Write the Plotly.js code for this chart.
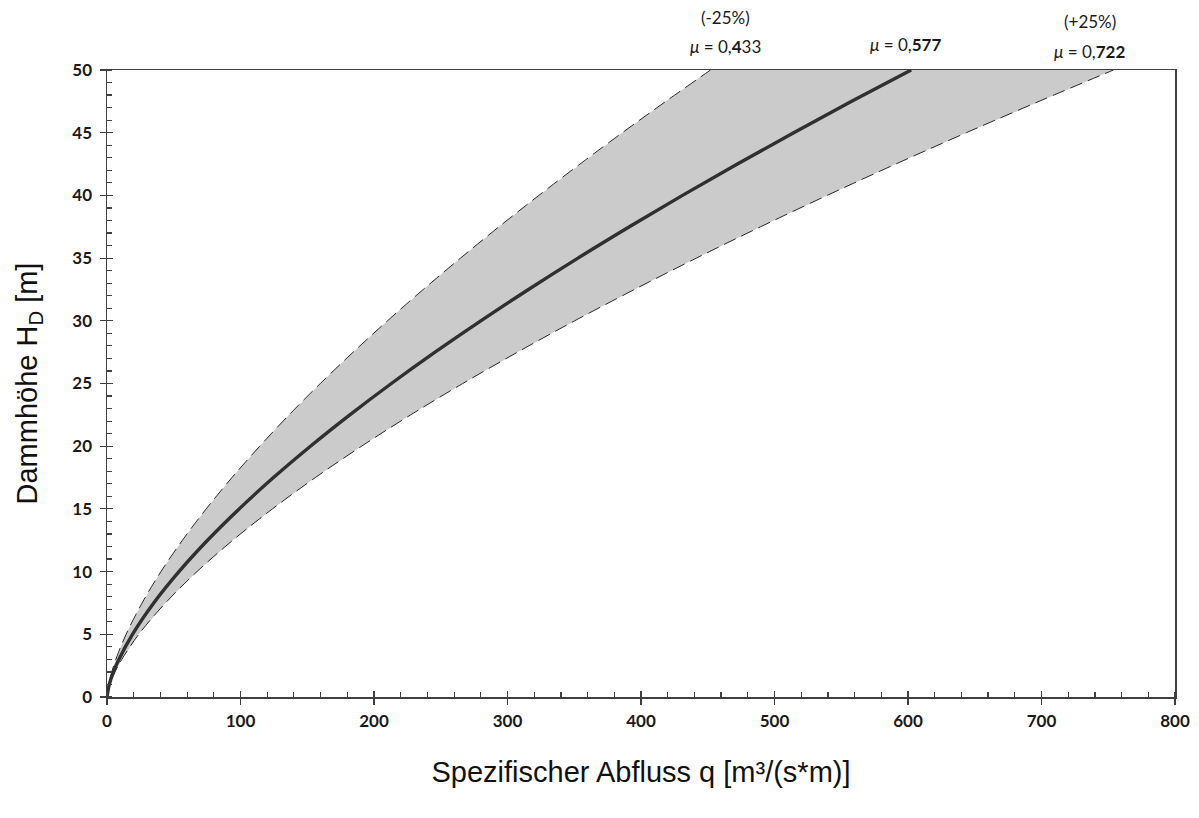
<!DOCTYPE html>
<html>
<head>
<meta charset="utf-8">
<script src="https://cdn.plot.ly/plotly-3.0.1.min.js"></script>
<style>html,body{margin:0;padding:0;background:#fff;}#chart{width:1199px;height:818px;}</style>
</head>
<body>
<div id="chart"></div>
<script>
// Dammhöhe H_D [m]
const heights = [0, 1, 2, 3, 5, 7.5, 10, 12.5, 15, 17.5, 20, 22.5, 25, 27.5, 30, 32.5, 35, 37.5, 40, 42.5, 45, 47.5, 50];
// Spezifischer Abfluss q for mu = 0.433 (-25%)
const qLow = [0, 1.3, 3.6, 6.6, 14.3, 26.3, 40.4, 56.5, 74.3, 93.6, 114.4, 136.4, 159.8, 184.4, 210.1, 236.9, 264.8, 293.6, 323.5, 354.3, 386.0, 418.6, 452.1];
// q for mu = 0.577
const qMid = [0, 1.7, 4.8, 8.9, 19.1, 35.0, 53.9, 75.3, 99.0, 124.7, 152.4, 181.9, 213.0, 245.7, 280.0, 315.7, 352.8, 391.3, 431.1, 472.2, 514.4, 557.8, 602.4];
// q for mu = 0.722 (+25%)
const qHigh = [0, 2.1, 6.0, 11.1, 23.8, 43.8, 67.4, 94.2, 123.9, 156.1, 190.7, 227.5, 266.5, 307.5, 350.3, 395.1, 441.5, 489.6, 539.4, 590.8, 643.7, 698.1, 753.9];

const xTicks = [0, 100, 200, 300, 400, 500, 600, 700, 800];
const yTicks = [0, 5, 10, 15, 20, 25, 30, 35, 40, 45, 50];

const bandX = qLow.concat(qHigh.slice().reverse());
const bandY = heights.concat(heights.slice().reverse());

const traces = [
  {x: bandX, y: bandY, type: 'scatter', mode: 'lines', fill: 'toself',
   fillcolor: '#cbcbcb', line: {width: 0}, hoverinfo: 'skip', showlegend: false},
  {x: qLow, y: heights, type: 'scatter', mode: 'lines',
   line: {color: '#2a2a2a', width: 1, dash: '13px,6px', shape: 'spline'}, showlegend: false},
  {x: qHigh, y: heights, type: 'scatter', mode: 'lines',
   line: {color: '#2a2a2a', width: 1, dash: '13px,6px', shape: 'spline'}, showlegend: false},
  {x: qMid, y: heights, type: 'scatter', mode: 'lines',
   line: {color: '#303030', width: 3.4, shape: 'spline'}, showlegend: false},
  // helper trace for overlay axes (inside half of major ticks)
  {x: [0], y: [0], xaxis: 'x2', yaxis: 'y2', mode: 'markers', marker: {opacity: 0}, hoverinfo: 'skip', showlegend: false}
];

const tickFont = {family: 'Lato, "Open Sans", sans-serif', size: 17, color: '#1a1a1a', weight: 'bold'};
const annFont = {family: 'Lato, "Open Sans", sans-serif', size: 17, color: '#1a1a1a'};
const titleFont = {family: '"Liberation Sans", Arial, sans-serif', size: 29, color: '#111'};

const layout = {
  width: 1199, height: 818,
  margin: {l: 107, r: 24, t: 70, b: 121},
  paper_bgcolor: '#ffffff', plot_bgcolor: '#ffffff',
  showlegend: false,
  xaxis: {
    range: [0, 800], tickvals: xTicks, ticktext: xTicks.map(String),
    showgrid: false, zeroline: false, showline: true, mirror: true,
    linecolor: '#404040', linewidth: 1.5,
    ticks: 'outside', ticklen: 6, tickwidth: 1.2, tickcolor: '#404040',
    minor: {dtick: 20, tick0: 0, ticks: 'inside', ticklen: 5, tickwidth: 1.2, tickcolor: '#404040', showgrid: false},
    tickfont: tickFont, ticklabelstandoff: 2,
    title: {text: 'Spezifischer Abfluss q [m³/(s*m)]', standoff: 32, font: titleFont}
  },
  yaxis: {
    range: [0, 50], tickvals: yTicks, ticktext: yTicks.map(String),
    showgrid: false, zeroline: false, showline: true, mirror: true,
    linecolor: '#404040', linewidth: 1.5,
    ticks: 'outside', ticklen: 6, tickwidth: 1.2, tickcolor: '#404040',
    minor: {dtick: 1, tick0: 0, ticks: 'inside', ticklen: 5, tickwidth: 1.2, tickcolor: '#404040', showgrid: false},
    tickfont: tickFont, ticklabelstandoff: 4,
    title: {text: 'Dammhöhe H<sub>D</sub> [m]', standoff: 26, font: titleFont}
  },
  xaxis2: {overlaying: 'x', matches: 'x', range: [0, 800], tickvals: xTicks, showticklabels: false,
           ticks: 'inside', ticklen: 6, tickwidth: 1.2, tickcolor: '#404040',
           showgrid: false, zeroline: false, showline: false},
  yaxis2: {overlaying: 'y', range: [0, 50], tickvals: yTicks, showticklabels: false,
           ticks: 'inside', ticklen: 6, tickwidth: 1.2, tickcolor: '#404040',
           showgrid: false, zeroline: false, showline: false},
  annotations: [
    {xref: 'x', yref: 'paper', x: 463, y: 1, yanchor: 'bottom', yshift: 40, showarrow: false,
     text: '(-25%)', font: annFont},
    {xref: 'x', yref: 'paper', x: 463, y: 1, yanchor: 'bottom', yshift: 11, showarrow: false,
     text: '<i>μ</i> = 0,<b>4</b>33', font: annFont},
    {xref: 'x', yref: 'paper', x: 598, y: 1, yanchor: 'bottom', yshift: 13, showarrow: false,
     text: '<i>μ</i> = 0,<b>577</b>', font: annFont},
    {xref: 'x', yref: 'paper', x: 736, y: 1, yanchor: 'bottom', yshift: 36, showarrow: false,
     text: '(+25%)', font: annFont},
    {xref: 'x', yref: 'paper', x: 736, y: 1, yanchor: 'bottom', yshift: 6, showarrow: false,
     text: '<i>μ</i> = 0,<b>722</b>', font: annFont}
  ]
};

Plotly.newPlot('chart', traces, layout, {displayModeBar: false, staticPlot: true});
</script>
</body>
</html>
